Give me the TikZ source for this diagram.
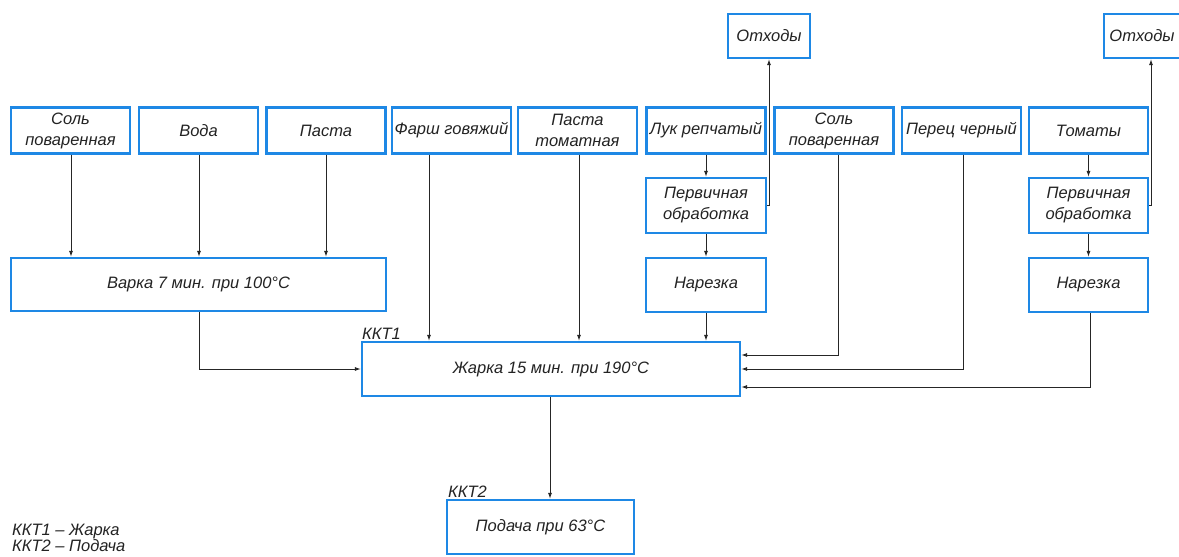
\documentclass[tikz,border=0pt]{standalone}
\usepackage{fontspec}
\setmainfont{Liberation Sans}
\usetikzlibrary{arrows.meta,calc}
\definecolor{boxblue}{RGB}{30,136,229}
\definecolor{txt}{RGB}{35,35,35}
\newcommand{\gost}{\fontsize{16.5}{21}\selectfont\itshape}
\tikzset{
  box/.style={draw=boxblue, line width=2.2pt, inner sep=1pt, align=center, font=\gost, text=txt},
  arr/.style={draw=black!85, line width=1pt, -{Latex[length=6pt,width=4pt]}},
  lab/.style={font=\gost, text=txt, inner sep=0pt}
}
\begin{document}
\begin{tikzpicture}[x=1pt,y=-1pt]
\useasboundingbox (0,0) rectangle (1179,557);
\clip (0,0) rectangle (1179,557);
\fill[white] (0,0) rectangle (1179,557);
% top row
\node[box, minimum width=119pt, minimum height=46pt] (sol1) at (70.5,130.5) {Соль\\поваренная};
\node[box, minimum width=119pt, minimum height=46pt] (voda) at (198.5,130.5) {Вода};
\node[box, minimum width=119pt, minimum height=46pt] (pasta) at (326,130.5) {Паста};
\node[box, minimum width=119pt, minimum height=46pt] (farsh) at (451.5,130.5) {Фарш говяжий};
\node[box, minimum width=119pt, minimum height=46pt] (pastat) at (577.5,130.5) {Паста\\томатная};
\node[box, minimum width=119pt, minimum height=46pt] (luk) at (706,130.5) {Лук репчатый};
\node[box, minimum width=119pt, minimum height=46pt] (sol2) at (834,130.5) {Соль\\поваренная};
\node[box, minimum width=119pt, minimum height=46pt] (perec) at (961.5,130.5) {Перец черный};
\node[box, minimum width=119pt, minimum height=46pt] (tomaty) at (1088.5,130.5) {Томаты};
% waste
\node[box, minimum width=82pt, minimum height=44pt] (otx1) at (769,36) {Отходы};
\node[box, minimum width=76pt, minimum height=44pt] (otx2) at (1142,36) {Отходы};
% processing
\node[box, minimum width=120pt, minimum height=55pt] (perv1) at (706,205.5) {Первичная\\обработка};
\node[box, minimum width=120pt, minimum height=54pt] (nar1) at (706,285) {Нарезка};
\node[box, minimum width=119pt, minimum height=55pt] (perv2) at (1088.5,205.5) {Первичная\\обработка};
\node[box, minimum width=119pt, minimum height=54pt] (nar2) at (1088.5,285) {Нарезка};
\node[box, minimum width=375pt, minimum height=53pt] (varka) at (198.5,284.5) {Варка 7 мин. при 100°С};
\node[box, minimum width=378pt, minimum height=54pt] (zharka) at (551,369) {Жарка 15 мин. при 190°С};
\node[box, minimum width=187pt, minimum height=54pt] (podacha) at (540.5,527) {Подача при 63°С};
% labels
\node[lab, anchor=base west] (kkt1) at (362,339) {ККТ1};
\node[lab, anchor=base west] (kkt2) at (448,497) {ККТ2};
\node[lab, anchor=base west] (leg1) at (12,535) {ККТ1 – Жарка};
\node[lab, anchor=base west] (leg2) at (12,551) {ККТ2 – Подача};
% connectors into Варка
\draw[arr] ([xshift=0.5pt]sol1.south) -- ([xshift=0.5pt]sol1.south |- varka.north);
\draw[arr] ([xshift=0.5pt]voda.south) -- ([xshift=0.5pt]voda.south |- varka.north);
\draw[arr] (pasta.south) -- (pasta.south |- varka.north);
% into Жарка from top
\draw[arr] ([xshift=-22.5pt]farsh.south) -- ([xshift=-22.5pt]farsh.south |- zharka.north);
\draw[arr] ([xshift=1.5pt]pastat.south) -- ([xshift=1.5pt]pastat.south |- zharka.north);
\draw[arr] (luk.south) -- (perv1.north);
\draw[arr] (perv1.south) -- (nar1.north);
\draw[arr] (nar1.south) -- (nar1.south |- zharka.north);
% Варка -> Жарка
\draw[arr] ([xshift=0.5pt]varka.south) |- (zharka.west);
% waste
\draw[arr] (perv1.east) -| (otx1.south);
\draw[arr] (perv2.east) -| ([xshift=9pt]otx2.south);
% right side into Жарка
\draw[arr] ([xshift=4pt]sol2.south) |- ([yshift=14pt]zharka.east);
\draw[arr] ([xshift=1.5pt]perec.south) |- (zharka.east);
\draw[arr] (tomaty.south) -- (perv2.north);
\draw[arr] (perv2.south) -- (nar2.north);
\draw[arr] ([xshift=1.5pt]nar2.south) |- ([yshift=-18pt]zharka.east);
% Жарка -> Подача
\draw[arr] ([xshift=9.5pt]podacha.north |- zharka.south) -- ([xshift=9.5pt]podacha.north);
\end{tikzpicture}
\end{document}
